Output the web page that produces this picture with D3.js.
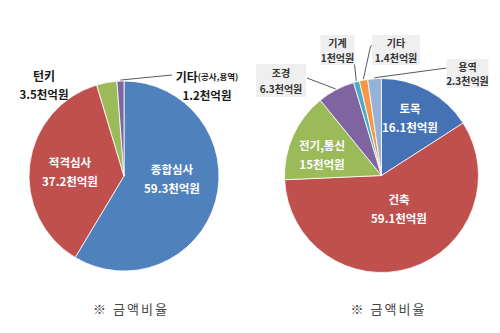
<!DOCTYPE html>
<html>
<head>
<meta charset="utf-8">
<script src="https://cdn.jsdelivr.net/npm/d3@7"></script>
<style>
  html, body { margin: 0; padding: 0; background: #ffffff; }
  svg { display: block; font-family: "Noto Sans CJK KR", "Noto Sans", sans-serif; }
</style>
</head>
<body>
<svg id="chart" width="500" height="333"></svg>
<script>
// 입찰방식별 금액 (천억원)
const methodNames = ["종합심사", "적격심사", "턴키", "기타"];
const methodNotes = ["", "", "", "(공사,용역)"];
const methodValues = [59.3, 37.2, 3.5, 1.2];
const methodColors = ["#4F81BD", "#C0504D", "#9BBB59", "#8064A2"];

// 공종별 금액 (천억원)
const fieldNames = ["토목", "건축", "전기,통신", "조경", "기계", "기타", "용역"];
const fieldValues = [16.1, 59.1, 15, 6.3, 1, 1.4, 2.3];
const fieldColors = ["#4472B4", "#C0504D", "#9BBB59", "#8064A2", "#4BACC6", "#F79646", "#95B3D7"];

const unit = "천억원";
const caption = "※ 금액비율";

// label placement relative to each pie's centre
const methodLayout = [
  { kind: "inside", at: [48, 2] },
  { kind: "inside", at: [-54, -5] },
  { kind: "outside", at: [-80, -92] },
  { kind: "outside", at: [83, -91], leader: [[48, -101]] }
];
const fieldLayout = [
  { kind: "inside", at: [28.5, -58] },
  { kind: "inside", at: [17.5, 33] },
  { kind: "inside", at: [-59.5, -21.5] },
  { kind: "box", at: [-100.5, -95], size: [50, 33], gap: 16, leader: [[-74.5, -97.5]] },
  { kind: "box", at: [-44, -125.5], size: [34, 30], gap: 15, leader: [[-27, -111.5]] },
  { kind: "box", at: [14.5, -125.5], size: [48, 30], gap: 15, leader: [[-11, -129], [-9, -130.5]] },
  { kind: "box", at: [86, -102], size: [42, 29], gap: 14, leader: [[65, -107.5]] }
];

const svg = d3.select("#chart");

function drawPie(cx, cy, r, names, notes, values, colors, layout) {
  const g = svg.append("g").attr("transform", `translate(${cx},${cy})`);
  const pie = d3.pie().sort(null).startAngle(0).endAngle(2 * Math.PI);
  const arcs = pie(values);
  const arc = d3.arc().innerRadius(0).outerRadius(r);

  g.selectAll("path.slice")
    .data(arcs)
    .join("path")
    .attr("class", "slice")
    .attr("d", arc)
    .attr("fill", (d, i) => colors[i])
    .attr("stroke", "#ffffff")
    .attr("stroke-width", 0.8);

  arcs.forEach((d, i) => {
    const L = layout[i];
    const name = names[i];
    const valueText = d3.format("")(values[i]) + unit;

    if (L.leader) {
      const mid = (d.startAngle + d.endAngle) / 2;
      const start = [Math.sin(mid) * (r + 1), -Math.cos(mid) * (r + 1)];
      g.append("path")
        .attr("d", d3.line()([start, ...L.leader]))
        .attr("fill", "none")
        .attr("stroke", "#595959")
        .attr("stroke-width", 1);
    }

    const [x, y] = L.at;
    if (L.kind === "inside") {
      const t = g.append("g").attr("fill", "#ffffff").attr("font-weight", 700)
        .attr("font-size", 11.5).attr("text-anchor", "middle");
      t.append("text").attr("x", x).attr("y", y - 9.5).attr("dominant-baseline", "central").text(name);
      t.append("text").attr("x", x).attr("y", y + 9.5).attr("dominant-baseline", "central").text(valueText);
    } else if (L.kind === "outside") {
      const t = g.append("g").attr("fill", "#1a1a1a").attr("font-weight", 700)
        .attr("text-anchor", "middle");
      const top = t.append("text").attr("x", x).attr("y", y - 9.5)
        .attr("dominant-baseline", "central").attr("font-size", 12);
      top.append("tspan").text(name);
      if (notes && notes[i]) top.append("tspan").attr("font-size", 8.5).text(notes[i]);
      t.append("text").attr("x", x).attr("y", y + 9.5).attr("dominant-baseline", "central")
        .attr("font-size", 11.5).text(valueText);
    } else {
      const [w, h] = L.size;
      g.append("rect").attr("x", x - w / 2).attr("y", y - h / 2)
        .attr("width", w).attr("height", h).attr("fill", "#EFEFEF");
      const t = g.append("g").attr("fill", "#333333").attr("font-weight", 700)
        .attr("font-size", 10).attr("text-anchor", "middle");
      t.append("text").attr("x", x).attr("y", y - L.gap / 2).attr("dominant-baseline", "central").text(name);
      t.append("text").attr("x", x).attr("y", y + L.gap / 2).attr("dominant-baseline", "central").text(valueText);
    }
  });

  svg.append("text")
    .attr("x", cx + 7).attr("y", 308)
    .attr("text-anchor", "middle").attr("dominant-baseline", "central")
    .attr("font-size", 13).attr("letter-spacing", 2).attr("fill", "#444444")
    .text(caption);
}

drawPie(124, 176, 95, methodNames, methodNotes, methodValues, methodColors, methodLayout);
drawPie(381.5, 175.5, 97, fieldNames, null, fieldValues, fieldColors, fieldLayout);
</script>
</body>
</html>
